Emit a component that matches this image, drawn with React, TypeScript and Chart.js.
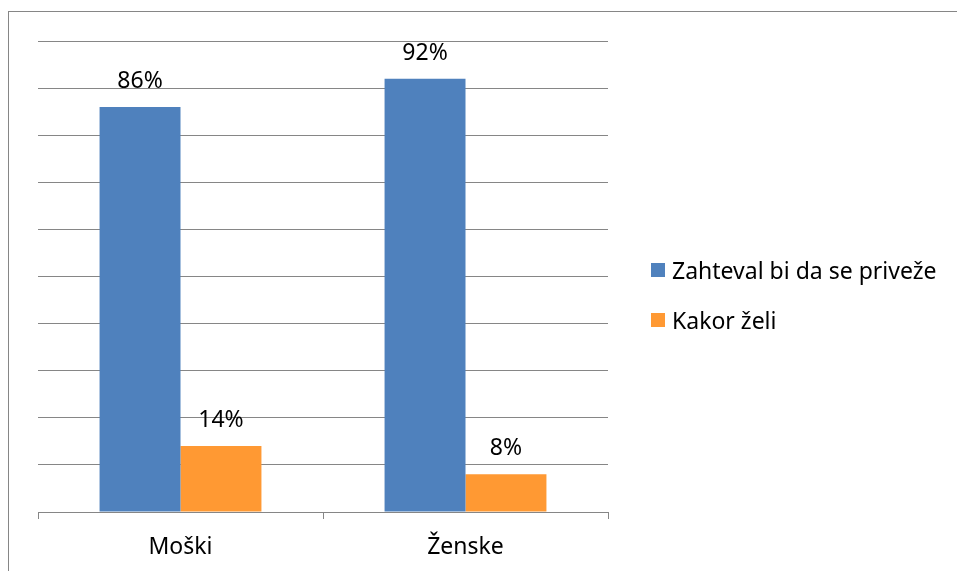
import React, { useEffect, useRef } from "react";
import { Chart, registerables } from "chart.js";

Chart.register(...registerables);

const categories = ["Moški", "Ženske"];
const seriesNames = ["Zahteval bi da se priveže", "Kakor želi"];
const zahtevalValues = [86, 92];
const kakorValues = [14, 8];
const colors = ["#4F81BD", "#FF9933"];

const FONT = "'Noto Sans', sans-serif";
const GRAY = "#868686";

const framePlugin = {
  id: "frame",
  beforeDraw(chart: any) {
    const ctx = chart.ctx;
    ctx.save();
    ctx.strokeStyle = GRAY;
    ctx.lineWidth = 1;
    ctx.strokeRect(8.5, 11.5, 1000, 1000);
    ctx.restore();
  },
};

const labelPlugin = {
  id: "valueLabels",
  afterDatasetsDraw(chart: any) {
    const ctx = chart.ctx;
    ctx.save();
    ctx.fillStyle = "#000";
    ctx.font = `23px ${FONT}`;
    ctx.textAlign = "center";
    ctx.textBaseline = "alphabetic";
    chart.data.datasets.forEach((ds: any, di: number) => {
      const meta = chart.getDatasetMeta(di);
      meta.data.forEach((el: any, i: number) => {
        ctx.fillText(`${ds.data[i]}%`, el.x, el.y - 19);
      });
    });
    ctx.restore();
  },
};

const legendPlugin = {
  id: "customLegend",
  afterDraw(chart: any) {
    const ctx = chart.ctx;
    ctx.save();
    ctx.font = `23px ${FONT}`;
    ctx.textAlign = "left";
    ctx.textBaseline = "alphabetic";
    chart.data.datasets.forEach((ds: any, i: number) => {
      const y = 263 + i * 50;
      ctx.fillStyle = ds.backgroundColor;
      ctx.fillRect(651, y, 14, 14);
      ctx.fillStyle = "#000";
      ctx.fillText(ds.label, 672, y + 16);
    });
    ctx.restore();
  },
};

export default function App() {
  const ref = useRef<HTMLCanvasElement>(null);
  useEffect(() => {
    if (!ref.current) return;
    const chart = new Chart(ref.current, {
      type: "bar",
      data: {
        labels: categories,
        datasets: [
          { label: seriesNames[0], data: zahtevalValues, backgroundColor: colors[0] },
          { label: seriesNames[1], data: kakorValues, backgroundColor: colors[1] },
        ],
      },
      options: {
        responsive: false,
        animation: false,
        layout: { padding: { left: 38, right: 349, top: 41, bottom: 0 } },
        datasets: { bar: { categoryPercentage: 0.568, barPercentage: 1 } },
        plugins: { legend: { display: false }, tooltip: { enabled: false } },
        scales: {
          x: {
            afterFit(scale: any) {
              scale.height = 59;
            },
            grid: {
              offset: true,
              drawOnChartArea: false,
              drawTicks: true,
              tickLength: 7,
              color: GRAY,
            },
            border: { display: true, color: GRAY },
            ticks: { color: "#000", font: { family: FONT, size: 23 }, padding: 15 },
          },
          y: {
            min: 0,
            max: 100,
            afterFit(scale: any) {
              scale.width = 0;
            },
            ticks: { display: false, stepSize: 10 },
            grid: { color: GRAY, drawTicks: false },
            border: { display: false },
          },
        },
      },
      plugins: [framePlugin, labelPlugin, legendPlugin],
    });
    return () => chart.destroy();
  }, []);
  return (
    <div style={{ position: "fixed", left: 0, top: 0, width: 957, height: 571, background: "#fff" }}>
      <canvas ref={ref} width={957} height={571} style={{ width: 957, height: 571 }} />
    </div>
  );
}
